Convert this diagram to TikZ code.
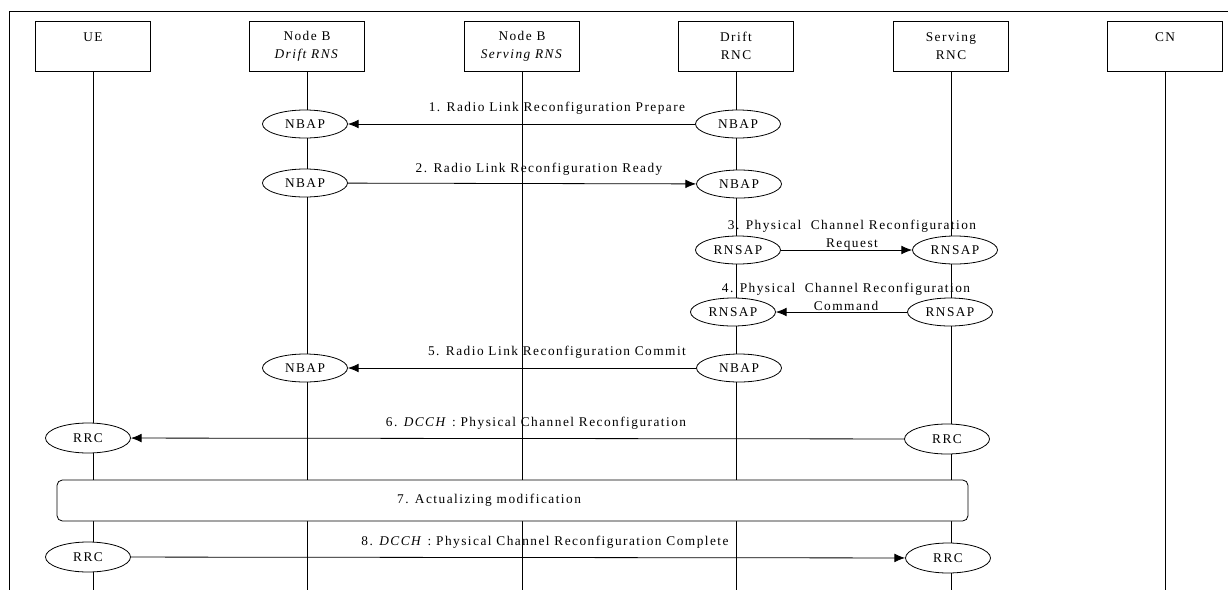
\documentclass[tikz,border=0pt]{standalone}
\usepackage{fontspec}
\setmainfont{Liberation Serif}[LetterSpace=11]
\usetikzlibrary{shapes.geometric,arrows.meta}

\tikzset{
  entity/.style={draw, align=center, inner sep=0pt, minimum width=86.25pt, minimum height=37.5pt},
  proto/.style={draw, ellipse, fill=white, inner sep=0pt, minimum width=63.75pt, minimum height=21pt},
  rrc/.style={proto, minimum height=22.5pt},
  msg/.style={-{Latex[length=8pt,width=6.5pt]}},
  procbox/.style={draw, fill=white, rounded corners=4pt, minimum width=683.25pt, minimum height=30.75pt}
}

\begin{document}
\begin{tikzpicture}[x=0.75pt, y=-0.75pt, line width=0.6pt, font=\fontsize{10}{13.5}\selectfont]
\useasboundingbox (0,0) rectangle (1228,590);
\draw (1228,11) -- (9,11) -- (9,590);

\foreach \name/\x/\txt in {ue/93/{UE\\~}, nbd/307/{Node B\\\textit{Drift RNS}},
    nbs/522/{Node B\\\textit{Serving RNS}}, drnc/736/{Drift\\RNC},
    srnc/951/{Serving\\RNC}, cn/1165/{CN\\~}} {
  \node[entity] (\name) at (\x,46) {\txt};
  \draw (\name.south) -- (\x,590);
}

\node[proto] (nb1) at (305,124) {NBAP};
\node[proto] (dn1) at (738,124) {NBAP};
\draw[msg] (dn1) -- (nb1);
\node (m1) at (557,108) {1. Radio Link Reconfiguration Prepare};

\node[proto] (nb2) at (305,183) {NBAP};
\node[proto] (dn2) at (739,184) {NBAP};
\draw[msg] (nb2) -- (dn2);
\node (m2) at (539,169) {2. Radio Link Reconfiguration Ready};

\node[proto] (dr3) at (738,250) {RNSAP};
\node[proto] (sr3) at (955,250) {RNSAP};
\draw[msg] (dr3) -- (sr3);
\node[align=center] (m3) at (852,235) {3. Physical~~Channel Reconfiguration\\Request};

\node[proto] (dr4) at (733,312) {RNSAP};
\node[proto] (sr4) at (950,312) {RNSAP};
\draw[msg] (sr4) -- (dr4);
\node[align=center] (m4) at (846,297) {4. Physical~~Channel Reconfiguration\\Command};

\node[proto] (nb5) at (305,368) {NBAP};
\node[proto] (dn5) at (739,368) {NBAP};
\draw[msg] (dn5) -- (nb5);
\node (m5) at (557,352) {5. Radio Link Reconfiguration Commit};

\node[rrc] (ue6) at (88,438) {RRC};
\node[rrc] (sr6) at (947,439) {RRC};
\draw[msg] (sr6) -- (ue6);
\node (m6) at (536,423) {6. \textit{DCCH} : Physical Channel Reconfiguration};

\node[procbox, label={[xshift=-17.6pt]center:7. Actualizing modification}] (act) at (512.5,500.5) {};

\node[rrc] (ue8) at (88,557) {RRC};
\node[rrc] (sr8) at (948,558) {RRC};
\draw[msg] (ue8) -- (sr8);
\node (m8) at (545,542) {8. \textit{DCCH} : Physical Channel Reconfiguration Complete};

\end{tikzpicture}
\end{document}
